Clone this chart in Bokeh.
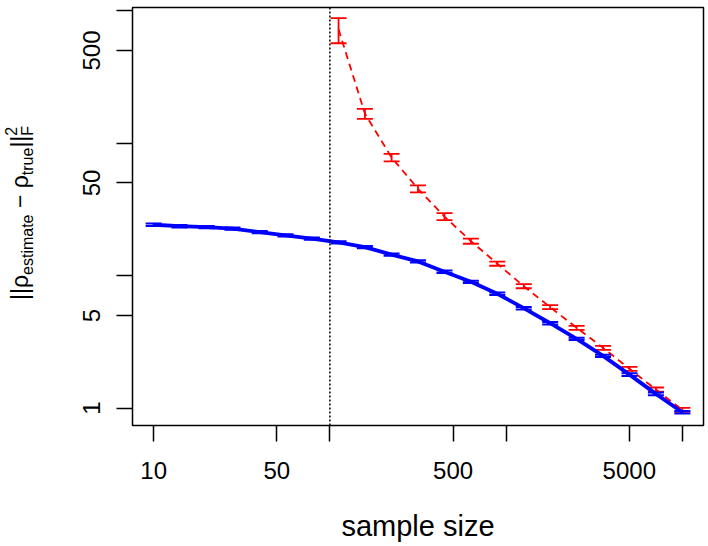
from bokeh.plotting import figure
from bokeh.layouts import row
from bokeh.models import FixedTicker, Span, Div
from bokeh.embed import file_html
from bokeh.resources import INLINE

# ---- data ----
sample_size = [10, 14, 20, 28, 40, 56, 79, 112, 158, 224, 316, 447, 631, 891,
               1259, 1778, 2512, 3548, 5012, 7079, 10000]
blue_mean = [24.2, 23.6, 23.2, 22.6, 21.3, 20.1, 19.0, 17.8, 16.4, 14.4, 12.8,
             10.7, 8.98, 7.29, 5.68, 4.37, 3.33, 2.48, 1.79, 1.28, 0.93]
blue_se = [0.5, 0.5, 0.45, 0.45, 0.4, 0.4, 0.35, 0.35, 0.3, 0.3, 0.25,
           0.22, 0.18, 0.15, 0.12, 0.09, 0.07, 0.05, 0.04, 0.03, 0.02]

red_size = [112, 158, 224, 316, 447, 631, 891, 1259, 1778, 2512, 3548, 5012,
            7079, 10000]
red_mean = [722, 167, 77.9, 45.2, 27.9, 18.2, 12.3, 8.32, 5.78, 4.04, 2.85,
            1.98, 1.38, 0.97]
red_se = [155, 14.5, 5.1, 2.7, 1.7, 0.8, 0.43, 0.29, 0.2, 0.14, 0.1, 0.07,
          0.05, 0.035]

cutoff = 100

x_ticks = [10, 50, 100, 500, 1000, 5000, 10000]
x_labels = ["10", "50", "", "500", "", "5000", ""]
y_ticks = [1, 5, 10, 50, 100, 500, 1000]
y_labels = ["1", "5", "", "50", "", "500", ""]

x_title = "sample size"
# y-axis title: ||rho_estimate - rho_true||_F^2
y_title_parts = {"rho": "\u03c1", "sub1": "estimate", "minus": "\u2212",
                 "sub2": "true", "sup": "2", "sub3": "F"}

blue_lo = [m - s for m, s in zip(blue_mean, blue_se)]
blue_hi = [m + s for m, s in zip(blue_mean, blue_se)]
red_lo = [m - s for m, s in zip(red_mean, red_se)]
red_hi = [m + s for m, s in zip(red_mean, red_se)]

FONT = "Liberation Sans"
W, H = 708, 546
TW = 60          # width of the strip holding the y-axis title
FL, FB = 132, 425   # frame left / bottom in page px

# ---------------- main plot ----------------
p = figure(width=W - TW, height=H, x_axis_type="log", y_axis_type="log",
           x_range=(10 ** 0.88, 10 ** 4.12), y_range=(10 ** -0.1313, 10 ** 3.0234),
           output_backend="svg", toolbar_location=None,
           min_border_left=FL - TW, min_border_right=5, min_border_top=7,
           min_border_bottom=H - FB)
p.background_fill_color = "white"
p.border_fill_color = "white"
p.outline_line_color = "black"
p.outline_line_width = 1.5
p.xgrid.grid_line_color = None
p.ygrid.grid_line_color = None

for ax, ticks, labels in ((p.xaxis[0], x_ticks, x_labels), (p.yaxis[0], y_ticks, y_labels)):
    ax.ticker = FixedTicker(ticks=ticks, minor_ticks=[])
    ax.major_label_overrides = {t: l for t, l in zip(ticks, labels)}
    ax.axis_line_color = None
    ax.major_tick_in = 0
    ax.major_tick_out = 16
    ax.major_tick_line_width = 1.5
    ax.major_tick_line_color = "black"
    ax.minor_tick_line_color = None
    ax.major_label_text_font = FONT
    ax.major_label_text_font_size = "24px"
    ax.major_label_text_color = "black"

p.xaxis.major_label_standoff = 20
p.yaxis.major_label_standoff = 16
p.yaxis.major_label_orientation = "parallel"

p.xaxis.axis_label = x_title
p.xaxis.axis_label_text_font = FONT
p.xaxis.axis_label_text_font_size = "29px"
p.xaxis.axis_label_text_font_style = "normal"
p.xaxis.axis_label_text_color = "black"
p.xaxis.axis_label_standoff = 28

# vertical dotted line
p.add_layout(Span(location=cutoff, dimension="height", line_color="black",
                  line_dash="2 2", line_width=1.5))

# red series (dashed) with error bars
p.line(red_size, red_mean, line_color="red", line_width=1.8, line_dash="7 5")
p.segment(red_size, red_lo, red_size, red_hi, line_color="red", line_width=1.8)
p.scatter(red_size, red_lo, marker="dash", size=16, line_color="red", line_width=1.8)
p.scatter(red_size, red_hi, marker="dash", size=16, line_color="red", line_width=1.8)

# blue series (solid, thick) with error bars
p.line(sample_size, blue_mean, line_color="blue", line_width=3.8)
p.segment(sample_size, blue_lo, sample_size, blue_hi, line_color="blue", line_width=2)
p.scatter(sample_size, blue_lo, marker="dash", size=16, line_color="blue", line_width=2)
p.scatter(sample_size, blue_hi, marker="dash", size=16, line_color="blue", line_width=2)

# ---------------- y-axis title strip (rotated HTML text) ----------------
M, S = 23, 16
base_x = 28           # main baseline, px from page left
start_y = 300         # where the text starts (bottom end), px from page top
left = base_x - 19.5  # top of the rotated line box
sub = f"font-size:{S}px;position:relative;top:5px;"
sup = f"font-size:{S}px;position:relative;top:-11px;"
tp = y_title_parts
html = (
    f'<div style="position:relative;width:{TW}px;height:{H}px;overflow:visible;">'
    f'<div style="position:absolute;left:{left}px;top:{start_y}px;'
    f'transform-origin:0 0;transform:rotate(-90deg);white-space:nowrap;'
    f"font-family:'{FONT}';font-size:{M}px;line-height:{M}px;color:black;\">"
    f'||{tp["rho"]}<span style="{sub}">{tp["sub1"]}</span> {tp["minus"]} '
    f'{tp["rho"]}<span style="{sub}">{tp["sub2"]}</span>||'
    f'<span style="{sup}">{tp["sup"]}</span>'
    f'<span style="{sub}margin-left:-8.9px;">{tp["sub3"]}</span>'
    f'</div></div>'
)
ytitle = Div(text=html, width=TW, height=H, margin=0)

layout = row(ytitle, p, spacing=0)
open("out.html", "w").write(file_html(layout, INLINE))
